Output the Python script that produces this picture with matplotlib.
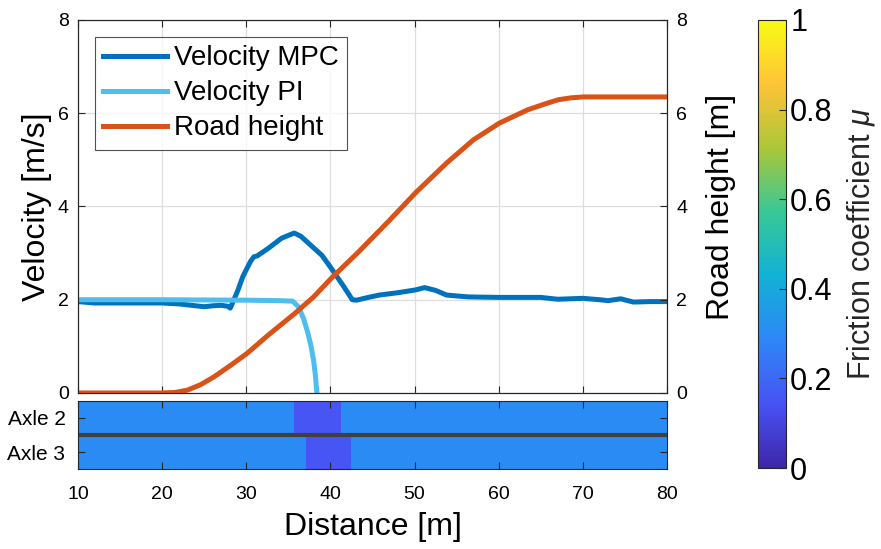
import matplotlib
matplotlib.use("Agg")
import matplotlib.pyplot as plt
import numpy as np
from matplotlib.colors import LinearSegmentedColormap, Normalize
from matplotlib.cm import ScalarMappable

plt.rcParams["font.family"] = ["Liberation Sans", "DejaVu Sans"]
plt.rcParams["mathtext.fontset"] = "custom"
plt.rcParams["mathtext.it"] = "Liberation Sans:italic"

# ---------- data ----------
dist_mpc = [10, 12, 15, 18, 20, 22, 24, 25, 26, 27, 27.8, 28.1, 29.0, 29.6, 30.5, 30.9, 31.3,
            32.6, 34.2, 35.0, 35.7, 36.5, 37.9, 39.0, 40.0, 41.6, 42.6, 43.1, 44.5, 45.8,
            48.0, 50.1, 51.2, 52.5, 53.8, 56.4, 60, 63, 65, 67, 70, 72, 73, 74.5, 76, 78, 80]
vel_mpc = [1.96, 1.93, 1.93, 1.93, 1.93, 1.91, 1.87, 1.85, 1.87, 1.88, 1.86, 1.82, 2.2, 2.5,
           2.82, 2.92, 2.94, 3.1, 3.32, 3.38, 3.43, 3.36, 3.13, 2.95, 2.7, 2.28, 2.0, 1.99,
           2.05, 2.1, 2.15, 2.21, 2.26, 2.2, 2.1, 2.06, 2.05, 2.05, 2.05, 2.01, 2.03, 2.0,
           1.98, 2.02, 1.95, 1.96, 1.96]

dist_pi = [10, 20, 30, 34, 35.5, 36.2, 36.8, 37.3, 37.7, 38.0, 38.2, 38.4]
vel_pi = [2.0, 2.0, 1.99, 1.98, 1.97, 1.85, 1.6, 1.3, 1.0, 0.7, 0.4, 0.0]

dist_road = [10, 15, 19.8, 21.5, 23.0, 24.6, 26.2, 28.2, 30.1, 32.6, 35.8, 38.0, 40.1, 43.2,
             46.9, 50.1, 53.8, 57.0, 60.1, 63.4, 65.5, 67.1, 68.6, 70.1, 75, 80]
road_height = [0, 0, 0, 0.01, 0.06, 0.18, 0.35, 0.6, 0.85, 1.24, 1.71, 2.06, 2.46, 3.0,
               3.68, 4.29, 4.93, 5.43, 5.79, 6.07, 6.2, 6.29, 6.33, 6.35, 6.35, 6.35]

axles = ["Axle 2", "Axle 3"]
axle2_edges = [10, 35.7, 41.2, 80]
axle2_mu = [0.3, 0.15, 0.3]
axle3_edges = [10, 37.1, 42.4, 80]
axle3_mu = [0.3, 0.15, 0.3]

# parula-like colormap (anchor colours)
parula = LinearSegmentedColormap.from_list(
    "parula",
    [
        (0.2422, 0.1504, 0.6603),
        (0.2810, 0.3228, 0.9579),
        (0.1786, 0.5289, 0.9682),
        (0.0689, 0.6948, 0.8394),
        (0.2161, 0.7843, 0.5923),
        (0.6720, 0.7793, 0.2227),
        (0.9970, 0.7659, 0.2199),
        (0.9769, 0.9839, 0.0805),
    ],
)

C_MPC = "#0072BD"
C_PI = "#4DBEEE"
C_ROAD = "#D95319"
AX_COL = "#262626"
TICK_FS = 14

fig = plt.figure(figsize=(8.81, 5.49), dpi=100)

# ---------- main axes ----------
ax = fig.add_axes([0.0885, 0.2842, 0.6686, 0.6794])
ax2 = ax.twinx()

l1, = ax.plot(dist_mpc, vel_mpc, color=C_MPC, lw=3.6, label="Velocity MPC", solid_joinstyle="round")
l2, = ax.plot(dist_pi, vel_pi, color=C_PI, lw=3.6, label="Velocity PI", solid_joinstyle="round")
l3, = ax2.plot(dist_road, road_height, color=C_ROAD, lw=3.6, label="Road height", solid_joinstyle="round")

for a in (ax, ax2):
    a.set_xlim(10, 80)
    a.set_ylim(0, 8)
    a.set_yticks([0, 2, 4, 6, 8])
    for s in a.spines.values():
        s.set_color(AX_COL)
        s.set_linewidth(0.8)
    a.tick_params(direction="in", length=5, width=0.8, colors=AX_COL, labelsize=TICK_FS,
                  labelcolor="black", pad=6.5)

ax.set_xticks(np.arange(10, 81, 10))
ax.tick_params(axis="x", top=True, labelbottom=False)
ax.grid(True, color="#dedede", lw=0.9)
ax.set_axisbelow(True)
ax.set_ylabel("Velocity [m/s]", fontsize=23, labelpad=4)
ax2.set_ylabel("Road height [m]", fontsize=23, labelpad=14)

leg = ax2.legend(handles=[l1, l2, l3], loc="upper left", fontsize=20, frameon=True,
                 fancybox=False, edgecolor=AX_COL, handlelength=2.3, labelspacing=0.32,
                 borderpad=0.3, handletextpad=0.25, borderaxespad=0,
                 bbox_to_anchor=(0.029, 0.954))
leg.get_frame().set_linewidth(0.8)

# ---------- friction strip ----------
axs = fig.add_axes([0.0885, 0.1457, 0.6686, 0.1239])
axs.pcolormesh(axle2_edges, [0.5, 1.5], [axle2_mu], cmap=parula, vmin=0, vmax=1)
axs.pcolormesh(axle3_edges, [1.5, 2.5], [axle3_mu], cmap=parula, vmin=0, vmax=1)
axs.axhline(1.5, color="#404040", lw=3)
axs.set_xlim(10, 80)
axs.set_ylim(2.5, 0.5)
axs.set_xticks(np.arange(10, 81, 10))
axs.set_yticks([1, 2])
axs.set_yticklabels(axles)
axs.tick_params(direction="in", length=5, width=0.8, colors=AX_COL, labelsize=15,
                labelcolor="black", top=True, right=True)
axs.tick_params(axis="x", pad=12, labelsize=TICK_FS)
axs.tick_params(axis="y", pad=9)
for s in axs.spines.values():
    s.set_color(AX_COL)
    s.set_linewidth(0.8)
axs.set_xlabel("Distance [m]", fontsize=23, labelpad=7)

# ---------- colorbar ----------
cax = fig.add_axes([0.8604, 0.1475, 0.0318, 0.8161])
cb = fig.colorbar(ScalarMappable(norm=Normalize(0, 1), cmap=parula), cax=cax)
cb.set_ticks([0, 0.2, 0.4, 0.6, 0.8, 1])
cb.set_ticklabels(["0", "0.2", "0.4", "0.6", "0.8", "1"])
cb.ax.tick_params(direction="in", length=5, width=0.8, colors=AX_COL, labelsize=22,
                  labelcolor="black", pad=3)
cb.outline.set_edgecolor(AX_COL)
cb.outline.set_linewidth(0.8)
cb.set_label(r"Friction coefficient $\mu$", fontsize=22, labelpad=9, color="#262626")

fig.savefig("out.png", dpi=100)
